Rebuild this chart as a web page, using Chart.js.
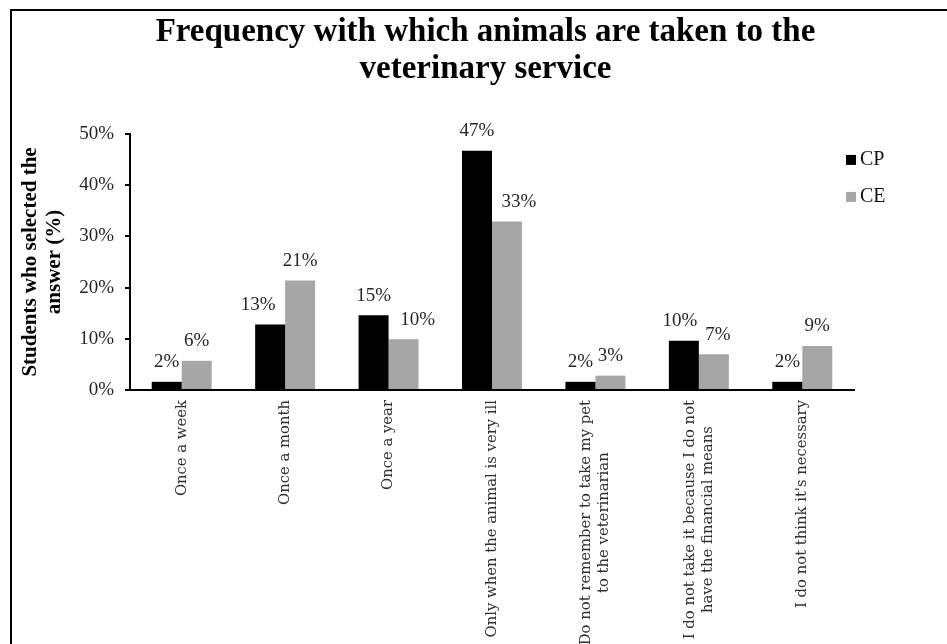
<!DOCTYPE html>
<html lang="en">
<head>
<meta charset="utf-8">
<title>Frequency with which animals are taken to the veterinary service</title>
<script src="https://cdn.jsdelivr.net/npm/chart.js@4.4.1/dist/chart.umd.min.js"></script>
<style>
  html, body { margin: 0; padding: 0; background: #fff; overflow: hidden; }
  #chartWrap { position: relative; width: 971px; height: 700px; }
  #frame {
    position: absolute; left: 10px; top: 9px; width: 1000px; height: 1000px;
    border-top: 2px solid #000; border-left: 2px solid #000; pointer-events: none;
  }
</style>
</head>
<body>
<div id="chartWrap">
  <canvas id="visitChart"></canvas>
  <div id="frame"></div>
</div>
<script>
const categories = [
  ['Once a week'],
  ['Once a month'],
  ['Once a year'],
  ['Only when the animal is very ill'],
  ['Do not remember to take my pet', 'to the veterinarian'],
  ['I do not take it because I do not', 'have the financial means'],
  ["I do not think it's necessary"]
];
const seriesNames = ['CP', 'CE'];
const cpValues = [1.6, 12.8, 14.6, 46.7, 1.6, 9.6, 1.6];
const ceValues = [5.7, 21.4, 9.9, 32.9, 2.8, 7.0, 8.6];
const yTicks = [0, 10, 20, 30, 40, 50];

const SERIF = "'Liberation Serif', 'Times New Roman', serif";

// percentage printed above every bar; a few are pushed sideways so they don't crowd
const valueLabels = {
  id: 'valueLabels',
  afterDatasetsDraw(chart, args, opts) {
    const ctx = chart.ctx;
    const nudge = opts.nudge || {};
    ctx.save();
    ctx.font = `19px ${SERIF}`;
    ctx.fillStyle = '#262626';
    ctx.textAlign = 'center';
    ctx.textBaseline = 'middle';
    chart.data.datasets.forEach((ds, di) => {
      chart.getDatasetMeta(di).data.forEach((bar, i) => {
        const dx = nudge[di + ':' + i] || 0;
        ctx.fillText(Math.round(ds.data[i]) + '%', bar.x + dx, bar.y - 19.5);
      });
    });
    ctx.restore();
  }
};

// vertical category names, wrapped lines centred on each other
const categoryLabels = {
  id: 'categoryLabels',
  afterDraw(chart) {
    const scale = chart.scales.x;
    const ctx = chart.ctx;
    const lineHeight = 18;
    ctx.save();
    ctx.font = "14.8px 'DejaVu Serif', serif";
    ctx.fillStyle = '#303030';
    ctx.textAlign = 'center';
    ctx.textBaseline = 'middle';
    chart.data.labels.forEach((lines, i) => {
      const longest = Math.max(...lines.map(t => ctx.measureText(t).width));
      ctx.save();
      ctx.translate(scale.getPixelForTick(i), scale.top + 10);
      ctx.rotate(-Math.PI / 2);
      lines.forEach((t, j) => {
        ctx.fillText(t, -longest / 2, (j - (lines.length - 1) / 2) * lineHeight);
      });
      ctx.restore();
    });
    ctx.restore();
  }
};

// small legend tucked into the top right corner of the plot
const sideLegend = {
  id: 'sideLegend',
  afterDraw(chart) {
    const {ctx, chartArea} = chart;
    ctx.save();
    ctx.font = `20px ${SERIF}`;
    ctx.textBaseline = 'middle';
    chart.data.datasets.forEach((ds, i) => {
      const x = chartArea.right - 8;
      const y = chartArea.top + 26 + i * 37;
      ctx.fillStyle = ds.backgroundColor;
      ctx.fillRect(x, y - 5, 10, 10);
      ctx.fillStyle = '#111';
      ctx.fillText(ds.label, x + 14, y);
    });
    ctx.restore();
  }
};

new Chart(document.getElementById('visitChart'), {
  type: 'bar',
  data: {
    labels: categories,
    datasets: [
      { label: seriesNames[0], data: cpValues, backgroundColor: '#000000' },
      { label: seriesNames[1], data: ceValues, backgroundColor: '#a6a6a6' }
    ]
  },
  options: {
    responsive: true,
    maintainAspectRatio: false,
    animation: false,
    events: [],
    layout: { padding: 0 },
    datasets: {
      bar: { categoryPercentage: 0.58, barPercentage: 1.0 }
    },
    plugins: {
      legend: { display: false },
      tooltip: { enabled: false },
      title: {
        display: true,
        text: ['Frequency with which animals are taken to the', 'veterinary service'],
        color: '#000',
        font: { family: SERIF, size: 33, weight: 'bold', lineHeight: 1.12 },
        padding: { top: 14, bottom: 46 }
      },
      valueLabels: {
        nudge: { '0:1': -12, '1:2': 14, '1:3': 12, '0:5': -4, '1:5': 4 }
      }
    },
    scales: {
      x: {
        grid: { display: false },
        border: { display: true, color: '#000', width: 2 },
        ticks: { display: false },
        afterFit: s => { s.height = 310; }
      },
      y: {
        min: 0,
        max: 50,
        afterBuildTicks: s => { s.ticks = yTicks.map(v => ({ value: v })); },
        grid: { drawOnChartArea: false, drawTicks: true, tickLength: 5, color: '#000', lineWidth: 2 },
        border: { color: '#000', width: 2 },
        ticks: {
          padding: 11,
          color: '#262626',
          font: { family: SERIF, size: 19 },
          callback: v => v + '%'
        },
        title: {
          display: true,
          text: ['Students who selected the', 'answer (%)'],
          color: '#000',
          font: { family: SERIF, size: 21, weight: 'bold', lineHeight: 1.16 },
          padding: { top: 18, bottom: 0 }
        },
        afterFit: s => { s.width = 130; }
      },
      // empty box on the right so the title stays centred over the page
      legendSpace: {
        position: 'right',
        grid: { display: false },
        border: { display: false },
        ticks: { display: false },
        afterFit: s => { s.width = 117; }
      }
    }
  },
  plugins: [valueLabels, categoryLabels, sideLegend]
});
</script>
</body>
</html>
